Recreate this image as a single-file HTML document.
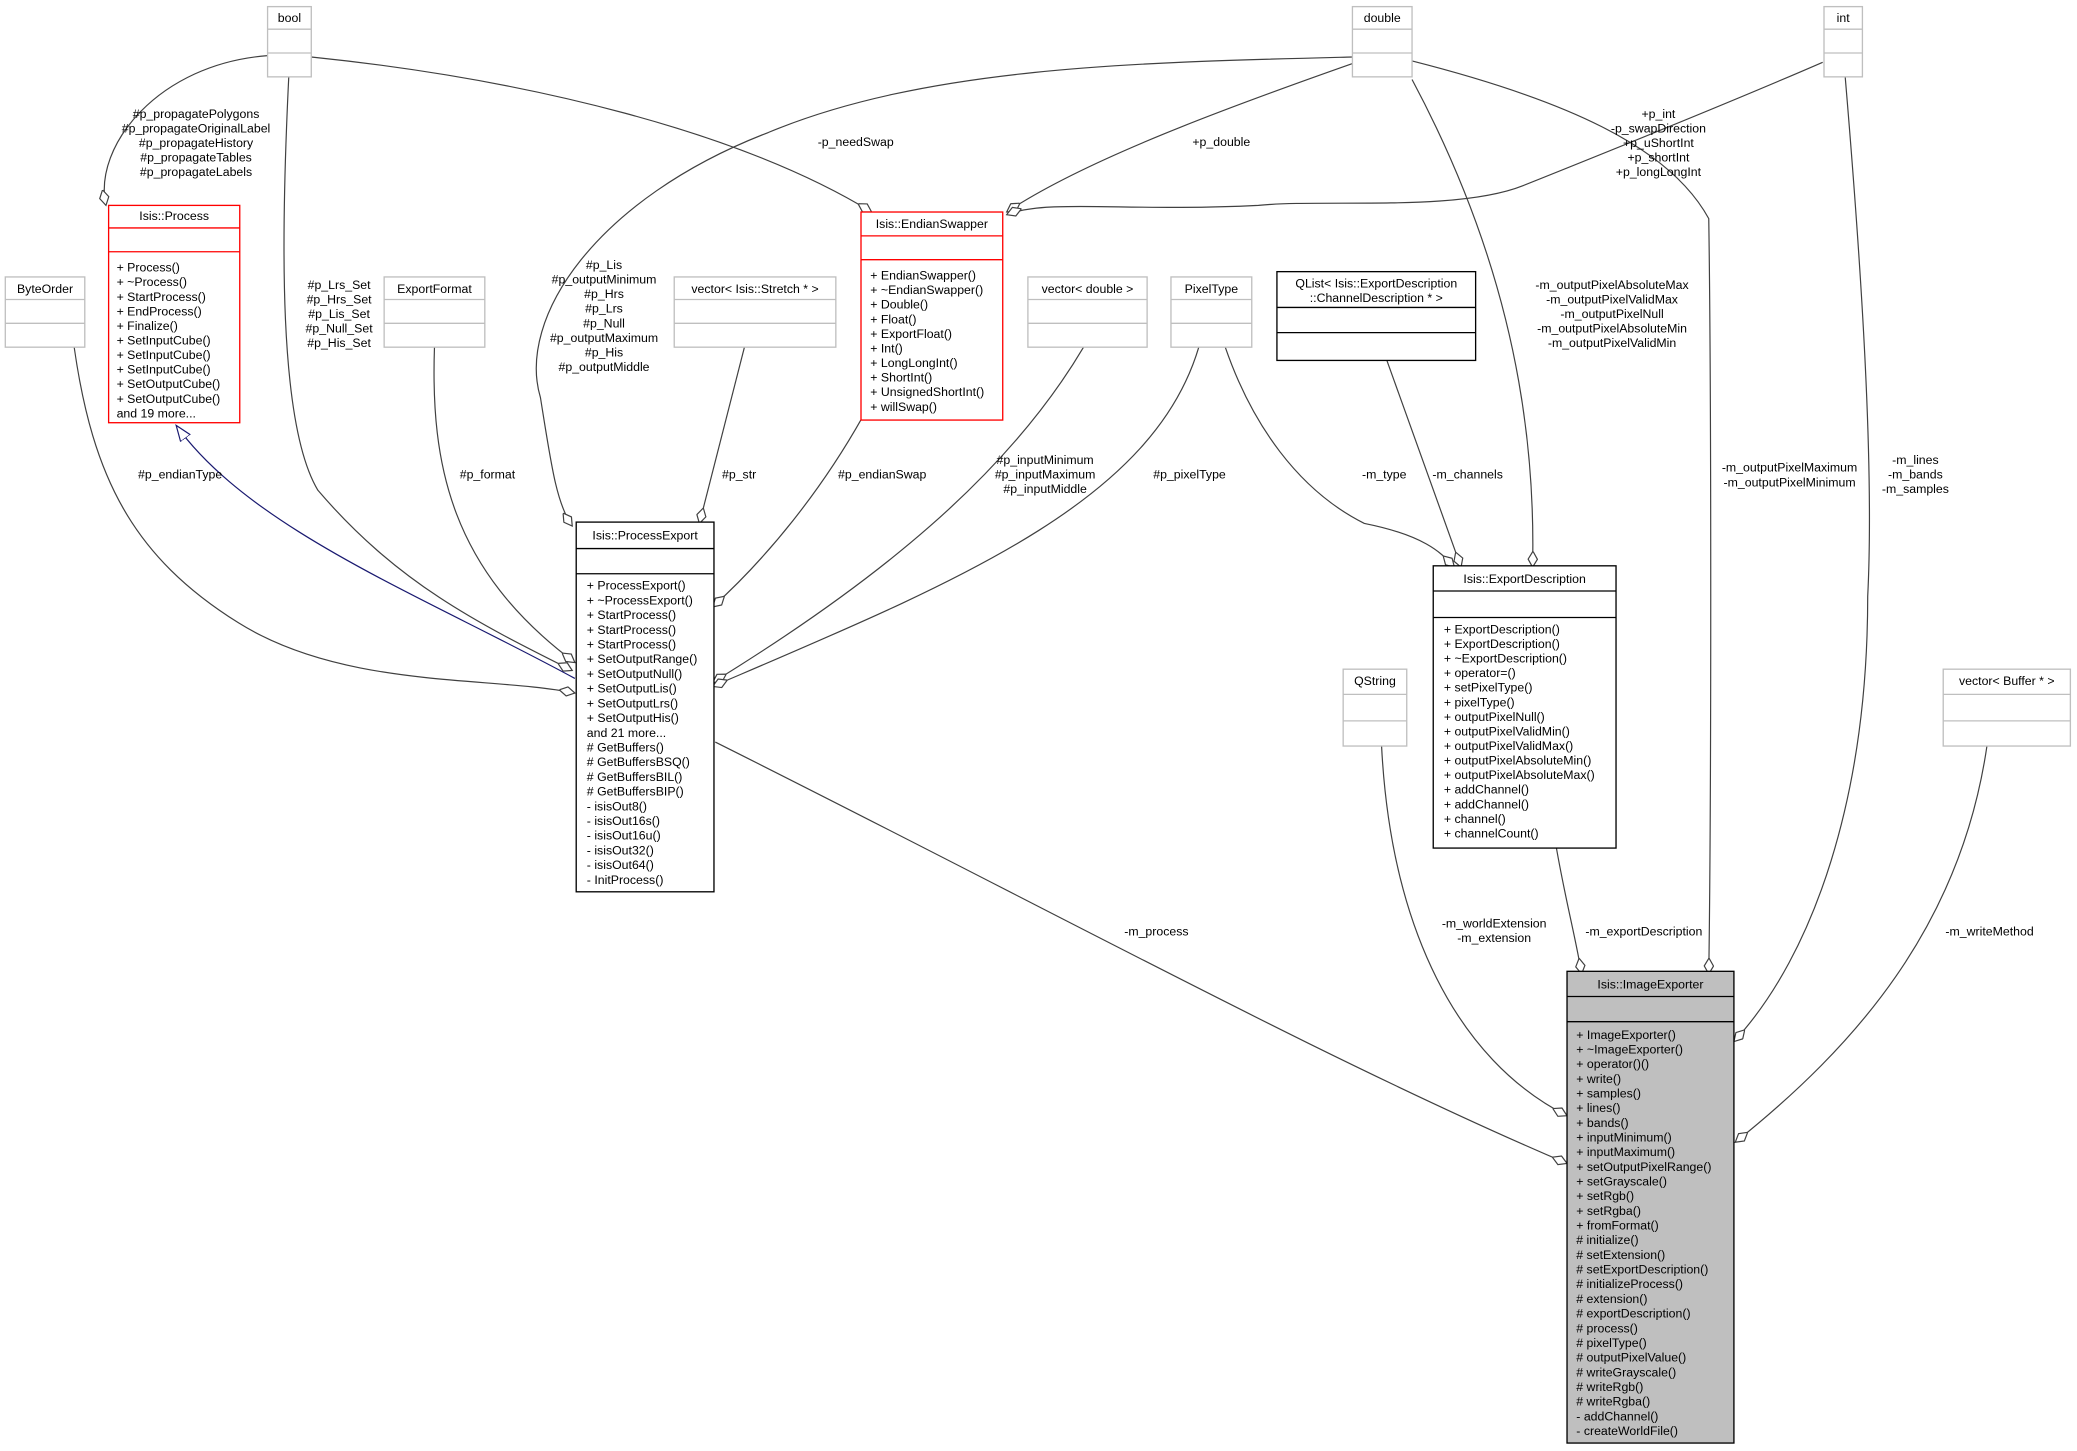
<!DOCTYPE html>
<html><head><meta charset="utf-8"><style>
html,body{margin:0;padding:0;background:#fff;}
svg{display:block;}
text{font-family:"Liberation Sans",sans-serif;font-size:9.3px;fill:#000;}
.g{fill:#fff;stroke:#bfbfbf;stroke-width:1;}
.r{fill:#fff;stroke:#ff0000;stroke-width:1;}
.k{fill:#fff;stroke:#000;stroke-width:1;}
.e{fill:none;stroke:#404040;stroke-width:0.9;}
.m{text-anchor:middle;}
</style></head><body>
<svg width="2077" height="1451" viewBox="0 0 1568 1095" preserveAspectRatio="none" xmlns="http://www.w3.org/2000/svg">
<defs>
<marker id="d" markerUnits="userSpaceOnUse" markerWidth="14" markerHeight="8" refX="12" refY="4" orient="auto">
<path d="M0,4 L6,0.5 L12,4 L6,7.5 Z" fill="#fff" stroke="#404040" stroke-width="0.9"/>
</marker>
<marker id="t" markerUnits="userSpaceOnUse" markerWidth="14" markerHeight="10" refX="12" refY="5" orient="auto">
<path d="M0,0.5 L12,5 L0,9.5 Z" fill="#fff" stroke="#191970" stroke-width="0.9"/>
</marker>
</defs>

<!-- edges -->
<path class="e" marker-end="url(#d)" d="M202,42 C120,48 70,110 80,155"/>
<path class="e" marker-end="url(#d)" d="M235,43 C400,60 560,100 658,160"/>
<path class="e" marker-end="url(#d)" d="M218,58 C212,180 210,320 240,370 C300,440 360,470 432,506"/>
<path class="e" marker-end="url(#d)" d="M1021,43 C860,47 700,50 580,100 C450,150 390,240 408,300 C416,350 420,380 432,397"/>
<path class="e" marker-end="url(#d)" d="M1021,48 C930,80 820,120 760,160"/>
<path class="e" marker-end="url(#d)" d="M1376,47 C1300,80 1200,120 1150,140 C1100,160 1000,150 950,155 C850,160 790,150 760,162"/>
<path class="e" marker-end="url(#d)" d="M1066,46 C1180,75 1260,110 1290,165 C1292,300 1292,600 1290,735"/>
<path class="e" marker-end="url(#d)" d="M1066,60 C1130,180 1160,300 1157,428"/>
<path class="e" marker-end="url(#d)" d="M1393,58 C1405,200 1415,350 1410,450 C1410,600 1370,720 1309,786"/>
<path class="e" marker-end="url(#d)" d="M56,262 C70,360 100,420 180,470 C260,520 370,510 434,523"/>
<path class="e" style="stroke:#191970" marker-end="url(#t)" d="M434,512 C320,450 190,400 133,321"/>
<path class="e" marker-end="url(#d)" d="M328,262 C325,350 340,430 434,500"/>
<path class="e" marker-end="url(#d)" d="M562,262 L528,395"/>
<path class="e" marker-end="url(#d)" d="M651,315 C620,370 580,420 538,458"/>
<path class="e" marker-end="url(#d)" d="M818,262 C760,360 660,440 538,515"/>
<path class="e" marker-end="url(#d)" d="M905,262 C870,380 720,440 538,518"/>
<path class="e" marker-end="url(#d)" d="M925,262 C945,320 980,370 1030,395 C1080,405 1090,420 1098,428"/>
<path class="e" marker-end="url(#d)" d="M1047,272 L1103,428"/>
<path class="e" marker-end="url(#d)" d="M540,560 C800,690 1000,800 1183,878"/>
<path class="e" marker-end="url(#d)" d="M1043,563 C1050,700 1100,800 1183,842"/>
<path class="e" marker-end="url(#d)" d="M1175,640 C1182,680 1190,710 1194,735"/>
<path class="e" marker-end="url(#d)" d="M1500,563 C1480,700 1400,790 1310,862"/>

<!-- edge labels -->
<g class="m">
<text x="148" y="89">#p_propagatePolygons</text>
<text x="148" y="100">#p_propagateOriginalLabel</text>
<text x="148" y="111">#p_propagateHistory</text>
<text x="148" y="122">#p_propagateTables</text>
<text x="148" y="133">#p_propagateLabels</text>
<text x="646" y="110">-p_needSwap</text>
<text x="922" y="110">+p_double</text>
<text x="1252" y="89">+p_int</text>
<text x="1252" y="100">-p_swapDirection</text>
<text x="1252" y="111">+p_uShortInt</text>
<text x="1252" y="122">+p_shortInt</text>
<text x="1252" y="133">+p_longLongInt</text>
<text x="256" y="218">#p_Lrs_Set</text>
<text x="256" y="229">#p_Hrs_Set</text>
<text x="256" y="240">#p_Lis_Set</text>
<text x="256" y="251">#p_Null_Set</text>
<text x="256" y="262">#p_His_Set</text>
<text x="456" y="203">#p_Lis</text>
<text x="456" y="214">#p_outputMinimum</text>
<text x="456" y="225">#p_Hrs</text>
<text x="456" y="236">#p_Lrs</text>
<text x="456" y="247">#p_Null</text>
<text x="456" y="258">#p_outputMaximum</text>
<text x="456" y="269">#p_His</text>
<text x="456" y="280">#p_outputMiddle</text>
<text x="1217" y="218">-m_outputPixelAbsoluteMax</text>
<text x="1217" y="229">-m_outputPixelValidMax</text>
<text x="1217" y="240">-m_outputPixelNull</text>
<text x="1217" y="251">-m_outputPixelAbsoluteMin</text>
<text x="1217" y="262">-m_outputPixelValidMin</text>
<text x="136" y="361">#p_endianType</text>
<text x="368" y="361">#p_format</text>
<text x="558" y="361">#p_str</text>
<text x="666" y="361">#p_endianSwap</text>
<text x="789" y="350">#p_inputMinimum</text>
<text x="789" y="361">#p_inputMaximum</text>
<text x="789" y="372">#p_inputMiddle</text>
<text x="898" y="361">#p_pixelType</text>
<text x="1045" y="361">-m_type</text>
<text x="1108" y="361">-m_channels</text>
<text x="1351" y="356">-m_outputPixelMaximum</text>
<text x="1351" y="367">-m_outputPixelMinimum</text>
<text x="1446" y="350">-m_lines</text>
<text x="1446" y="361">-m_bands</text>
<text x="1446" y="372">-m_samples</text>
<text x="873" y="706">-m_process</text>
<text x="1128" y="700">-m_worldExtension</text>
<text x="1128" y="711">-m_extension</text>
<text x="1241" y="706">-m_exportDescription</text>
<text x="1502" y="706">-m_writeMethod</text>
</g>

<!-- simple gray boxes -->
<g>
<rect class="g" x="202" y="5" width="33" height="53"/><line class="g" x1="202" y1="22" x2="235" y2="22"/><line class="g" x1="202" y1="40" x2="235" y2="40"/><text x="218.5" y="16.5" class="m">bool</text>
<rect class="g" x="1021" y="5" width="45" height="53"/><line class="g" x1="1021" y1="22" x2="1066" y2="22"/><line class="g" x1="1021" y1="40" x2="1066" y2="40"/><text x="1043.5" y="16.5" class="m">double</text>
<rect class="g" x="1377" y="5" width="29" height="53"/><line class="g" x1="1377" y1="22" x2="1406" y2="22"/><line class="g" x1="1377" y1="40" x2="1406" y2="40"/><text x="1391.5" y="16.5" class="m">int</text>
<rect class="g" x="4" y="209" width="60" height="53"/><line class="g" x1="4" y1="226" x2="64" y2="226"/><line class="g" x1="4" y1="244" x2="64" y2="244"/><text x="34" y="221" class="m">ByteOrder</text>
<rect class="g" x="290" y="209" width="76" height="53"/><line class="g" x1="290" y1="226" x2="366" y2="226"/><line class="g" x1="290" y1="244" x2="366" y2="244"/><text x="328" y="221" class="m">ExportFormat</text>
<rect class="g" x="509" y="209" width="122" height="53"/><line class="g" x1="509" y1="226" x2="631" y2="226"/><line class="g" x1="509" y1="244" x2="631" y2="244"/><text x="570" y="221" class="m">vector&lt; Isis::Stretch * &gt;</text>
<rect class="g" x="776" y="209" width="90" height="53"/><line class="g" x1="776" y1="226" x2="866" y2="226"/><line class="g" x1="776" y1="244" x2="866" y2="244"/><text x="821" y="221" class="m">vector&lt; double &gt;</text>
<rect class="g" x="884" y="209" width="61" height="53"/><line class="g" x1="884" y1="226" x2="945" y2="226"/><line class="g" x1="884" y1="244" x2="945" y2="244"/><text x="914.5" y="221" class="m">PixelType</text>
<rect class="g" x="1014" y="505" width="48" height="58"/><line class="g" x1="1014" y1="524" x2="1062" y2="524"/><line class="g" x1="1014" y1="544" x2="1062" y2="544"/><text x="1038" y="517" class="m">QString</text>
<rect class="g" x="1467" y="505" width="96" height="58"/><line class="g" x1="1467" y1="524" x2="1563" y2="524"/><line class="g" x1="1467" y1="544" x2="1563" y2="544"/><text x="1515" y="517" class="m">vector&lt; Buffer * &gt;</text>
</g>

<!-- QList -->
<rect class="k" x="964" y="205" width="150" height="67"/><line class="k" x1="964" y1="232" x2="1114" y2="232"/><line class="k" x1="964" y1="251" x2="1114" y2="251"/>
<text x="1039" y="217" class="m">QList&lt; Isis::ExportDescription</text>
<text x="1039" y="228" class="m">::ChannelDescription * &gt;</text>

<!-- Isis::Process -->
<rect class="r" x="82" y="155" width="99" height="164"/><line class="r" x1="82" y1="172" x2="181" y2="172"/><line class="r" x1="82" y1="190" x2="181" y2="190"/>
<text x="131.5" y="166" class="m">Isis::Process</text>
<g transform="translate(88,205)">
<text y="0">+ Process()</text><text y="11">+ ~Process()</text><text y="22">+ StartProcess()</text><text y="33">+ EndProcess()</text><text y="44">+ Finalize()</text><text y="55">+ SetInputCube()</text><text y="66">+ SetInputCube()</text><text y="77">+ SetInputCube()</text><text y="88">+ SetOutputCube()</text><text y="99">+ SetOutputCube()</text><text y="110">and 19 more...</text>
</g>

<!-- EndianSwapper -->
<rect class="r" x="650" y="160" width="107" height="157"/><line class="r" x1="650" y1="178" x2="757" y2="178"/><line class="r" x1="650" y1="196" x2="757" y2="196"/>
<text x="703.5" y="172" class="m">Isis::EndianSwapper</text>
<g transform="translate(657,211)">
<text y="0">+ EndianSwapper()</text><text y="11">+ ~EndianSwapper()</text><text y="22">+ Double()</text><text y="33">+ Float()</text><text y="44">+ ExportFloat()</text><text y="55">+ Int()</text><text y="66">+ LongLongInt()</text><text y="77">+ ShortInt()</text><text y="88">+ UnsignedShortInt()</text><text y="99">+ willSwap()</text>
</g>

<!-- ProcessExport -->
<rect class="k" x="435" y="394" width="104" height="279"/><line class="k" x1="435" y1="414" x2="539" y2="414"/><line class="k" x1="435" y1="433" x2="539" y2="433"/>
<text x="487" y="407" class="m">Isis::ProcessExport</text>
<g transform="translate(443,445)">
<text y="0">+ ProcessExport()</text><text y="11.1">+ ~ProcessExport()</text><text y="22.2">+ StartProcess()</text><text y="33.3">+ StartProcess()</text><text y="44.4">+ StartProcess()</text><text y="55.5">+ SetOutputRange()</text><text y="66.6">+ SetOutputNull()</text><text y="77.7">+ SetOutputLis()</text><text y="88.8">+ SetOutputLrs()</text><text y="99.9">+ SetOutputHis()</text><text y="111">and 21 more...</text><text y="122.1"># GetBuffers()</text><text y="133.2"># GetBuffersBSQ()</text><text y="144.3"># GetBuffersBIL()</text><text y="155.4"># GetBuffersBIP()</text><text y="166.5">- isisOut8()</text><text y="177.6">- isisOut16s()</text><text y="188.7">- isisOut16u()</text><text y="199.8">- isisOut32()</text><text y="210.9">- isisOut64()</text><text y="222">- InitProcess()</text>
</g>

<!-- ExportDescription -->
<rect class="k" x="1082" y="427" width="138" height="213"/><line class="k" x1="1082" y1="446" x2="1220" y2="446"/><line class="k" x1="1082" y1="466" x2="1220" y2="466"/>
<text x="1151" y="440" class="m">Isis::ExportDescription</text>
<g transform="translate(1090,478)">
<text y="0">+ ExportDescription()</text><text y="11">+ ExportDescription()</text><text y="22">+ ~ExportDescription()</text><text y="33">+ operator=()</text><text y="44">+ setPixelType()</text><text y="55">+ pixelType()</text><text y="66">+ outputPixelNull()</text><text y="77">+ outputPixelValidMin()</text><text y="88">+ outputPixelValidMax()</text><text y="99">+ outputPixelAbsoluteMin()</text><text y="110">+ outputPixelAbsoluteMax()</text><text y="121">+ addChannel()</text><text y="132">+ addChannel()</text><text y="143">+ channel()</text><text y="154">+ channelCount()</text>
</g>

<!-- ImageExporter -->
<rect x="1183" y="733" width="126" height="356" fill="#bfbfbf" stroke="#000" stroke-width="1"/><line class="k" x1="1183" y1="752" x2="1309" y2="752"/><line class="k" x1="1183" y1="771" x2="1309" y2="771"/>
<text x="1246" y="746" class="m">Isis::ImageExporter</text>
<g transform="translate(1190,784)">
<text y="0">+ ImageExporter()</text><text y="11.07">+ ~ImageExporter()</text><text y="22.14">+ operator()()</text><text y="33.21">+ write()</text><text y="44.28">+ samples()</text><text y="55.35">+ lines()</text><text y="66.42">+ bands()</text><text y="77.49">+ inputMinimum()</text><text y="88.56">+ inputMaximum()</text><text y="99.63">+ setOutputPixelRange()</text><text y="110.7">+ setGrayscale()</text><text y="121.77">+ setRgb()</text><text y="132.84">+ setRgba()</text><text y="143.91">+ fromFormat()</text><text y="154.98"># initialize()</text><text y="166.05"># setExtension()</text><text y="177.12"># setExportDescription()</text><text y="188.19"># initializeProcess()</text><text y="199.26"># extension()</text><text y="210.33"># exportDescription()</text><text y="221.4"># process()</text><text y="232.47"># pixelType()</text><text y="243.54"># outputPixelValue()</text><text y="254.61"># writeGrayscale()</text><text y="265.68"># writeRgb()</text><text y="276.75"># writeRgba()</text><text y="287.82">- addChannel()</text><text y="298.89">- createWorldFile()</text>
</g>
</svg>
</body></html>
